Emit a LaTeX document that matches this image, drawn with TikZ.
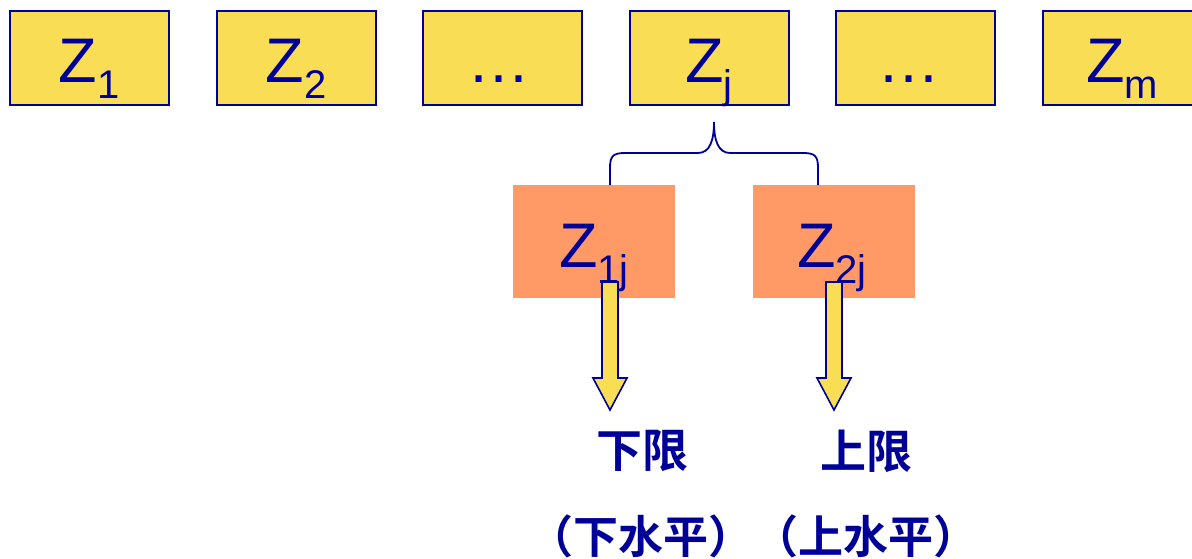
\documentclass[tikz,border=0pt]{standalone}
\usepackage{fontspec}
\setmainfont{Liberation Sans}
\newfontfamily\cjk{Noto Sans CJK SC}[BoldFont={Noto Sans CJK SC Bold}]
\definecolor{zblue}{HTML}{000099}
\definecolor{zyellow}{HTML}{F9DE55}
\definecolor{zorange}{HTML}{FF9966}
\newcommand{\Zlab}[1]{{\fontsize{63}{63}\selectfont Z\raisebox{-16pt}{\fontsize{40}{40}\selectfont #1}}}
\begin{document}
\begin{tikzpicture}[x=1pt,y=-1pt,
  topbox/.style={draw=zblue,line width=2pt,fill=zyellow,minimum width=159pt,minimum height=94pt,inner sep=0pt},
  subbox/.style={fill=zorange,minimum width=162pt,minimum height=113pt,inner sep=0pt},
  ztext/.style={text=zblue,anchor=base,inner sep=0pt},
  cjktext/.style={text=zblue,font=\cjk\fontsize{45}{45}\selectfont,inner sep=0pt},
  blockarrow/.style={draw=zblue,line width=1.6pt,fill=zyellow,line join=miter},
  bracestyle/.style={draw=zblue,line width=1.8pt}]
\useasboundingbox (0,0) rectangle (1192,558);
\begin{scope}
\clip (0,0) rectangle (1192,558);
% top row
\node[topbox] (b1) at (89.5,58) {};
\node[topbox] (b2) at (296.5,58) {};
\node[topbox] (b3) at (502.5,58) {};
\node[topbox] (b4) at (709,58) {};
\node[topbox] (b5) at (915,58) {};
\node[topbox] (b6) at (1122.5,58) {};
\end{scope}
\node[ztext] (t1) at (89,82) {\Zlab{1}};
\node[ztext] (t2) at (296,82) {\Zlab{2}};
\node[ztext] (t3) at (499,82) {\fontsize{63}{63}\selectfont …};
\node[ztext] (t4) at (709,82) {\Zlab{j}};
\node[ztext] (t5) at (909,82) {\fontsize{63}{63}\selectfont …};
\node[ztext] (t6) at (1122,82) {\Zlab{m}};
% sub boxes
\node[subbox] (s1) at (594,241.5) {};
\node[subbox] (s2) at (834,241.5) {};
\node[ztext] (ts1) at (594,267) {\Zlab{1j}};
\node[ztext] (ts2) at (832,267) {\Zlab{2j}};
% brace
\coordinate (tip) at (714,122);
\coordinate (bl) at (610,185);
\coordinate (br) at (818,185);
\draw[bracestyle] (bl) -- (610,168) .. controls (610,156) and (613,153) .. (625,153) -- (698,153)
  .. controls (710,153) and (714,140) .. (tip)
  .. controls (714,140) and (718,153) .. (730,153) -- (803,153)
  .. controls (815,153) and (818,156) .. (818,168) -- (br);
% block arrows
\coordinate (a1) at (610,282);
\coordinate (a2) at (834,282);
\foreach \a in {a1,a2}{
  \draw[blockarrow] ([xshift=-8pt]\a) -- ([xshift=8pt]\a) -- ([shift={(8pt,96)}]\a) -- ([shift={(17pt,96)}]\a)
    -- ([shift={(0pt,128)}]\a) -- ([shift={(-17pt,96)}]\a) -- ([shift={(-8pt,96)}]\a) -- cycle;
}
% labels
\node[cjktext,font=\cjk\bfseries\fontsize{46}{46}\selectfont] (lo) at (642,451) {下限};
\node[cjktext,font=\cjk\bfseries\fontsize{46}{46}\selectfont] (hi) at (866,451) {上限};
\node[cjktext,font=\cjk\bfseries\fontsize{45}{45}\selectfont] (lo2) at (753,536) {（下水平）（上水平）};
\end{tikzpicture}
\end{document}
